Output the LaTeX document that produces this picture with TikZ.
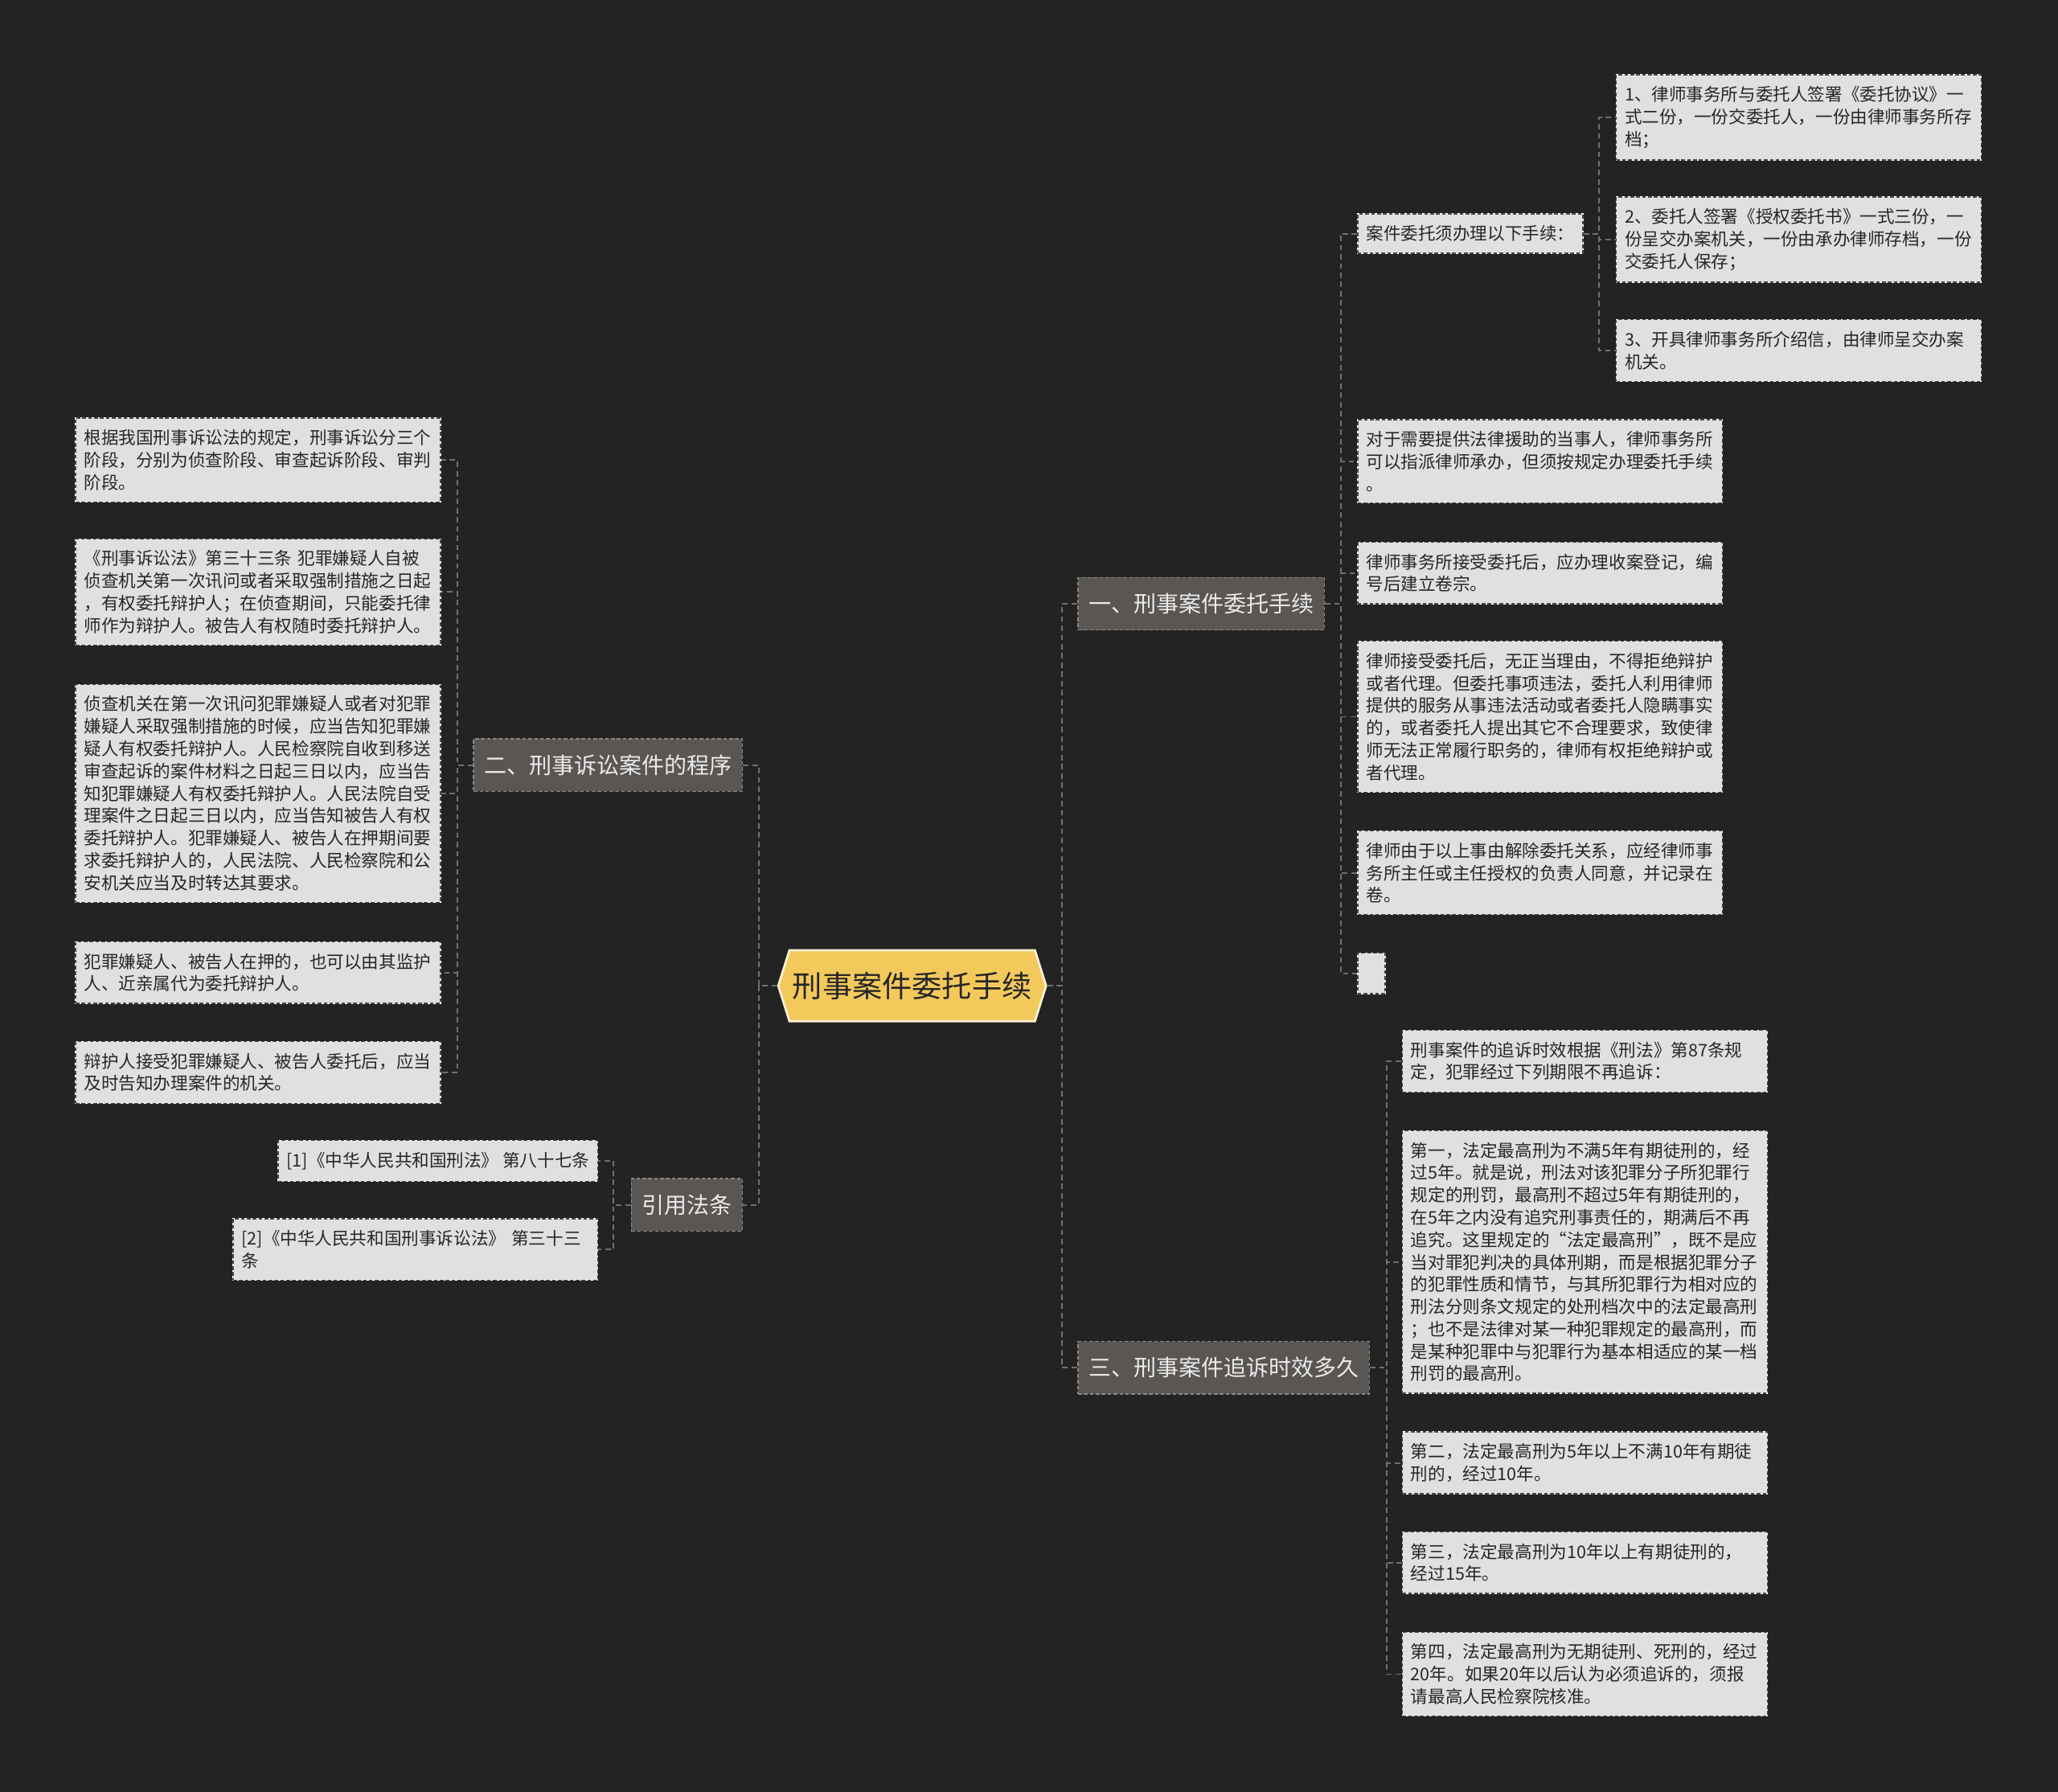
\documentclass[tikz,border=0pt]{standalone}
\usepackage{fontspec}
\usepackage{tikz}
\usetikzlibrary{positioning, shapes.symbols}
\newfontfamily\cjk{Noto Sans CJK SC}
\definecolor{mybg}{RGB}{35,35,35}
\definecolor{myyellow}{RGB}{243,201,92}
\definecolor{myyellowedge}{RGB}{250,240,212}
\definecolor{mybranch}{RGB}{90,86,83}
\definecolor{mybranchedge}{RGB}{140,135,130}
\definecolor{myleaf}{RGB}{224,224,224}
\definecolor{myleafedge}{RGB}{70,70,70}
\definecolor{myline}{RGB}{112,112,112}
\definecolor{mydark}{RGB}{38,38,38}
\tikzset{
  rootnode/.style={signal, signal to=east and west, signal pointer angle=145,
    draw=myyellowedge, fill=myyellow, line width=1.2pt,
    minimum width=51mm, minimum height=13.5mm, inner xsep=0.5mm,
    font=\cjk\fontsize{16.2pt}{18pt}\selectfont, text=mydark},
  branch/.style={rectangle, draw=mybranchedge, fill=mybranch,
    dash pattern=on 2pt off 1.2pt, line width=0.6pt,
    minimum height=10mm, inner xsep=2mm,
    font=\cjk\fontsize{12.2pt}{14pt}\selectfont, text=white!92!black},
  leaf/.style={rectangle, fill=myleaf, preaction={draw=white, solid},
    draw=myleafedge, dash pattern=on 2pt off 1.2pt, line width=0.6pt,
    inner xsep=4.6pt, inner ysep=2.2mm, align=left,
    font=\cjk\fontsize{9.4pt}{12.1pt}\selectfont, text=mydark},
  leafwide/.style={leaf, text width=188.5pt},
  conn/.style={draw=myline, line width=0.8pt, dash pattern=on 3pt off 2pt}
}

\begin{document}
\begin{tikzpicture}[x=0.025cm, y=-0.025cm]
  % Background
  \fill[mybg] (0,0) rectangle (1568,1365);
  \useasboundingbox (0,0) rectangle (1568,1365);

  % Root
  \node[rootnode] (root) at (695,751) {刑事案件委托手续};

  % Branches
  \node[branch, anchor=west] (br1) at (821,460) {一、刑事案件委托手续};
  \node[branch, anchor=east] (br2) at (566,583) {二、刑事诉讼案件的程序};
  \node[branch, anchor=east] (br4) at (566,918) {引用法条};
  \node[branch, anchor=west] (br3) at (821,1042) {三、刑事案件追诉时效多久};

  % Branch one leaves
  \node[leaf, anchor=west] (lf1a) at (1034,178) {案件委托须办理以下手续：};
  \node[leafwide, anchor=west] (sub1) at (1231,89.5) {1、律师事务所与委托人签署《委托协议》一\\式二份，一份交委托人，一份由律师事务所存\\档；};
  \node[leafwide, anchor=west] (sub2) at (1231,182.5) {2、委托人签署《授权委托书》一式三份，一\\份呈交办案机关，一份由承办律师存档，一份\\交委托人保存；};
  \node[leafwide, anchor=west] (sub3) at (1231,267) {3、开具律师事务所介绍信，由律师呈交办案\\机关。};
  \node[leafwide, anchor=west] (lf1b) at (1034,351.5) {对于需要提供法律援助的当事人，律师事务所\\可以指派律师承办，但须按规定办理委托手续\\。};
  \node[leafwide, anchor=west] (lf1c) at (1034,436.5) {律师事务所接受委托后，应办理收案登记，编\\号后建立卷宗。};
  \node[leafwide, anchor=west] (lf1d) at (1034,546) {律师接受委托后，无正当理由，不得拒绝辩护\\或者代理。但委托事项违法，委托人利用律师\\提供的服务从事违法活动或者委托人隐瞒事实\\的，或者委托人提出其它不合理要求，致使律\\师无法正常履行职务的，律师有权拒绝辩护或\\者代理。};
  \node[leafwide, anchor=west] (lf1e) at (1034,665) {律师由于以上事由解除委托关系，应经律师事\\务所主任或主任授权的负责人同意，并记录在\\卷。};
  \node[leaf, anchor=west, inner sep=0pt, minimum width=5.25mm, minimum height=7.75mm] (lf1f) at (1034,741.5) {};

  % Branch three leaves
  \node[leafwide, anchor=west] (lf3a) at (1068,808.5) {刑事案件的追诉时效根据《刑法》第87条规\\定，犯罪经过下列期限不再追诉：};
  \node[leafwide, anchor=west] (lf3b) at (1068,961.5) {第一，法定最高刑为不满5年有期徒刑的，经\\过5年。就是说，刑法对该犯罪分子所犯罪行\\规定的刑罚，最高刑不超过5年有期徒刑的，\\在5年之内没有追究刑事责任的，期满后不再\\追究。这里规定的“法定最高刑”，既不是应\\当对罪犯判决的具体刑期，而是根据犯罪分子\\的犯罪性质和情节，与其所犯罪行为相对应的\\刑法分则条文规定的处刑档次中的法定最高刑\\；也不是法律对某一种犯罪规定的最高刑，而\\是某种犯罪中与犯罪行为基本相适应的某一档\\刑罚的最高刑。};
  \node[leafwide, anchor=west] (lf3c) at (1068,1114.5) {第二，法定最高刑为5年以上不满10年有期徒\\刑的，经过10年。};
  \node[leafwide, anchor=west] (lf3d) at (1068,1190.5) {第三，法定最高刑为10年以上有期徒刑的，\\经过15年。};
  \node[leafwide, anchor=west] (lf3e) at (1068,1275.5) {第四，法定最高刑为无期徒刑、死刑的，经过\\20年。如果20年以后认为必须追诉的，须报\\请最高人民检察院核准。};

  % Branch two leaves
  \node[leafwide, anchor=east] (lf2a) at (336,350.5) {根据我国刑事诉讼法的规定，刑事诉讼分三个\\阶段，分别为侦查阶段、审查起诉阶段、审判\\阶段。};
  \node[leafwide, anchor=east] (lf2b) at (336,451) {《刑事诉讼法》第三十三条 犯罪嫌疑人自被\\侦查机关第一次讯问或者采取强制措施之日起\\，有权委托辩护人；在侦查期间，只能委托律\\师作为辩护人。被告人有权随时委托辩护人。};
  \node[leafwide, anchor=east] (lf2c) at (336,604.5) {侦查机关在第一次讯问犯罪嫌疑人或者对犯罪\\嫌疑人采取强制措施的时候，应当告知犯罪嫌\\疑人有权委托辩护人。人民检察院自收到移送\\审查起诉的案件材料之日起三日以内，应当告\\知犯罪嫌疑人有权委托辩护人。人民法院自受\\理案件之日起三日以内，应当告知被告人有权\\委托辩护人。犯罪嫌疑人、被告人在押期间要\\求委托辩护人的，人民法院、人民检察院和公\\安机关应当及时转达其要求。};
  \node[leafwide, anchor=east] (lf2d) at (336,741) {犯罪嫌疑人、被告人在押的，也可以由其监护\\人、近亲属代为委托辩护人。};
  \node[leafwide, anchor=east] (lf2e) at (336,817) {辩护人接受犯罪嫌疑人、被告人委托后，应当\\及时告知办理案件的机关。};

  % Cited law leaves
  \node[leaf, anchor=east] (ref1) at (456,884.5) {[1]《中华人民共和国刑法》 第八十七条};
  \node[leafwide, anchor=east] (ref2) at (456,952) {[2]《中华人民共和国刑事诉讼法》 第三十三\\条};

  % Connectors
  \foreach \n in {br1,br3} \draw[conn] (root.east) -- ++(11,0) |- (\n.west);
  \foreach \n in {br2,br4} \draw[conn] (root.west) -- ++(-14,0) |- (\n.east);
  \foreach \n in {lf1a,lf1b,lf1c,lf1d,lf1e,lf1f} \draw[conn] (br1.east) -- ++(12,0) |- (\n.west);
  \foreach \n in {sub1,sub2,sub3} \draw[conn] (lf1a.east) -- ++(12,0) |- (\n.west);
  \foreach \n in {lf3a,lf3b,lf3c,lf3d,lf3e} \draw[conn] (br3.east) -- ++(13,0) |- (\n.west);
  \foreach \n in {lf2a,lf2b,lf2c,lf2d,lf2e} \draw[conn] (br2.west) -- ++(-12,0) |- (\n.east);
  \foreach \n in {ref1,ref2} \draw[conn] (br4.west) -- ++(-13,0) |- (\n.east);
\end{tikzpicture}
\end{document}
